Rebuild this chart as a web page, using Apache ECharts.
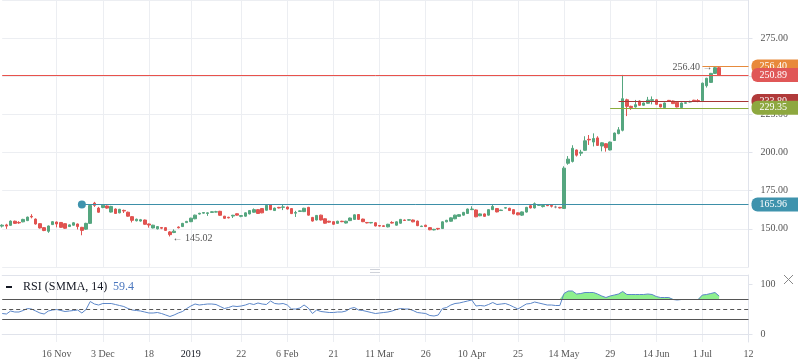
<!DOCTYPE html>
<html><head><meta charset="utf-8">
<script src="https://cdn.jsdelivr.net/npm/echarts@6/dist/echarts.min.js"></script>
<style>html,body{margin:0;padding:0;background:#fff}#c{width:798px;height:363px}</style>
</head><body><div id="c"></div>
<script>
// bar slots on the time scale (trading sessions), including future empty slots
const slotCount = 179;
const tickIndex = [13,24,35,45,57,68,79,90,101,112,123,134,145,156,167,178];
const tickLabels = ['16 Nov','3 Dec','18','2019','22','6 Feb','21','11 Mar','26','10 Apr','25','14 May','29','14 Jun','1 Jul','12'];
const priceTicks = [150,175,200,225,250,275];
const rsiTicks = [0,100];

// [open, close, low, high]
const candles = [
[151.8,152.4,150.9,153],[152.6,151.8,150,153.3],[152.3,155.1,152,155.5],[155,153.6,153.2,155.4],[154.2,153.9,153.3,155],
[154.6,156.2,154.3,156.6],[155.4,157.7,155.1,158],[158.2,157.8,156.9,159.6],[156.4,153.2,152.8,156.8],[153.4,150.6,150.2,153.7],
[150.8,148.9,148.5,151.2],[148.4,151.9,147.4,152.2],[152.8,154.7,152.5,155],[154.5,153.2,151,154.8],[154.2,151,150.7,154.5],
[153.4,150.4,150,153.7],[151.5,152.6,151.2,152.9],[152.4,154,152.1,154.4],[153.2,151.5,149.6,153.5],[151,149,145.8,151.3],
[149.8,153.6,149.4,154],[153.6,165.3,153.2,165.7],[166.9,165.4,164.4,167.7],[163.6,160.9,160.6,164.4],[164,165.5,163.5,166],
[165,163.6,163.2,165.4],[161,164.7,160.7,165.1],[163,160.1,159.8,163.4],[160.5,162.8,160.2,163.1],[162.1,161.7,160.4,162.6],
[160.9,158.3,158,161.3],[158,155.6,154.2,158.3],[155.3,156.3,154.9,156.7],[155.1,156,154.8,156.5],[155.8,153,152.7,156.1],
[153.2,152.5,150.8,153.5],[150.6,152.4,150.3,152.7],[150,151.5,149.6,151.8],[150.9,150.4,149.8,151.2],[150.8,149,148.7,151.1],
[148,146.2,145.02,148.5],[147.6,148.5,147.2,149.7],[151.2,150.7,150.3,151.6],[151.5,153.6,151.2,153.9],[154.1,154.9,153.8,155.2],
[154.7,157,154.4,157.3],[156.6,159,156.3,159.3],[159.7,160.2,159.4,160.5],[160.3,160.7,160,161],[160.1,160.5,158.5,160.8],
[160.8,161.2,160.5,161.5],[161,161.2,160.8,161.8],[161.5,158.9,158.6,161.8],[158.3,156.9,156.6,158.5],[157.6,157.2,156.9,157.9],
[158.4,158.9,157.1,159.2],[159.9,159,158.7,160.2],[158.2,158.7,157.6,159],[158.3,160.5,158,160.8],[159.8,162,159.5,162.3],
[160.9,162.6,160.6,163.4],[162.6,160.1,159.8,162.9],[163.3,160.5,160.2,163.6],[162.2,165.4,161.9,165.8],[165.8,162.6,162.3,166.2],
[162,163.6,161.7,163.9],[164.1,163.7,163.4,164.4],[164.1,164.4,162.3,165.8],[164.3,163,162.7,164.6],[163.3,160,159.7,163.6],
[160.3,160.7,157.8,161.8],[161.4,161.8,161.1,162.1],[161.3,163.5,161,163.8],[164.1,159,158.7,164.4],[157.5,155.1,154.8,157.8],
[155.8,158.8,155.5,159.1],[159,155.8,155.5,159.3],[156.6,153.7,153.4,156.9],[155,154.4,154,155.3],[154.7,153,152.7,155],
[153.6,155,153.3,155.3],[155,154.7,154.4,155.3],[153.8,155,153.5,155.3],[155.4,157.1,155.1,157.4],[156.2,159.2,155.9,159.5],
[159.4,156.2,155.9,159.7],[156.4,154.7,154.4,156.7],[154.2,153.9,153.6,154.5],[153.9,154.2,153.6,154.5],[154,151.9,151.6,154.3],
[152.2,151.8,151.5,152.5],[152,151.6,151.3,152.3],[151.3,153,151,153.3],[154.2,153.8,153.5,155],[152.4,154.6,152.1,154.9],
[153.7,156.2,153.4,156.5],[155.8,155.5,155.2,156.1],[155.7,156,155.4,156.3],[155.8,154.6,154.3,156.1],[155.1,152.1,151.8,155.4],
[151.5,151.8,151.2,152.1],[152.4,151.5,151.2,152.7],[150.8,149.4,149.1,151.1],[149.3,149.7,149,150],[150.3,149.9,149.2,150.6],
[150.2,154.6,149.9,154.9],[154.6,155.6,154.3,155.9],[155,157.2,154.7,157.5],[156.6,159,156.3,159.3],[158.2,159.3,157.9,159.6],
[159,160.8,158.7,161.1],[160.1,163,159.8,163.3],[162.6,163,162.3,164.8],[162.4,157.9,157.6,162.7],[158.6,159.8,158.3,160.1],
[159.8,158.2,157.9,160.1],[159,162.6,158.7,162.9],[162.6,164.7,162.3,165.9],[163.3,161.1,160.8,163.6],[162,162.3,161.7,162.6],
[163.6,163.9,163.3,164.2],[163.5,162,161.7,163.8],[162.6,159.8,159.5,162.9],[160.5,159.2,158.9,160.8],[159,161.1,158.5,161.4],
[161,164.1,160.7,164.4],[165.2,163.7,163.4,166],[163.7,166.5,163.4,167.3],[165.4,165.8,165.1,166.1],[164.6,165.3,164,165.6],
[165.6,165.2,164.9,165.9],[165.4,164.8,164,165.7],[164.3,164.3,163.5,165.2],[164.1,163.7,163.4,164.4],[163.4,189.8,163.1,191],
[193,195.7,192,197.7],[194.2,202.8,193.5,204.8],[201.7,198.3,197.4,202],[199.6,200.3,197.8,201.8],[201.5,207.7,201.2,210.7],
[208.7,208.3,205,211.5],[206.9,209.2,204,212.6],[209.6,204.7,204.4,210.7],[204.3,206.4,200.8,206.7],[205.8,203.2,200.6,206.1],
[201.7,206.9,201.4,207.2],[207.9,212.8,207.6,213.1],[212.4,214.9,212,216.7],[214.6,235.3,213.9,250.9],[234.6,230.3,223.9,235.3],
[230.3,229.5,228,230.7],[229.9,231.4,229.5,234.5],[233.8,231,230.7,234.2],[231,232.5,230.7,232.8],[232.3,234.4,232,236.5],
[234.2,234.7,231.6,236.8],[234.6,231.6,231.3,234.9],[231.6,229.9,229.6,231.9],[229.5,232.5,229.2,232.8],[234.2,233.8,233.5,234.5],
[233.8,232.1,231.8,234.1],[232.9,229.9,229.6,233.2],[229.5,232.5,229.2,232.8],[232.3,232.7,232,233.6],[233.1,233.5,232.8,234],
[234.3,233.8,233.5,234.6],[234.1,233.7,233,235],[234,245.5,233.7,245.8],[243.8,248.7,242.6,249],[246,251.9,245.7,252.2],
[251.9,255.6,251.6,256.4],[255.6,250.89,250.2,256.1]
];

const rsi = [
41,40,46,44,44,47,51,50,46,42, 40,46,48,49,47,45,46,47,48,42,
49,65,60,58,61,61,61,59,57,55, 51,48,47,46,44,42,42,43,41,38,
35,38,42,45,51,56,60,58,59,60, 60,59,55,51,53,56,55,56,58,61,
59,62,60,59,66,61,60,61,58,50, 50,52,58,52,41,48,45,44,43,43,
44,44,46,51,53,48,47,45,43,41, 42,43,44,46,49,51,50,50,47,43,
42,41,37,36,38,51,53,58,61,62, 64,66,68,56,57,56,59,63,59,60,
61,58,54,50,55,60,61,64,62,60, 58,58,57,57,81,86,86,80,81,83,
83,83,80,76,73,76,78,80,85,79, 79,79,79,79,80,79,75,73,73,73,
69,68,69,69,69,69,69,78,79,81, 83,76
];

// price levels drawn on the chart: [startSlot, price]
const levelTeal = [19, 165.96];
const levelLast = [0, 250.89];
const levelOrange = [167, 256.40];
const levelDarkRed = [147, 233.80];
const levelGreen = [145, 229.35];
const lowNote = [40, 145.02];
const highNote = [170, 256.40];
const rsiValueText = '59.4';
const rsiLevels = [70, 50, 30];

const categories = Array.from({length: slotCount}, (_, i) => String(i));
const tickSet = new Set(tickIndex);
const labelMap = {};
tickIndex.forEach((t, k) => { labelMap[String(t)] = tickLabels[k]; });
const isTick = (i) => tickSet.has(i);

// overbought shading: the part of the RSI line above the 70 level, stacked on a 70 base
const obBase = rsi.map(() => rsiLevels[0]);
const obExcess = rsi.map((v) => Math.max(0, v - rsiLevels[0]));

const FONT = 'Liberation Serif';
const GRID_LINE = '#eceef2';
const AXIS_LINE = '#e0e3eb';
const UP = '#55a67f', DOWN = '#e15350';
const last = String(slotCount - 1);

function lvlLabel(bg, val) {
  return {show: true, position: 'end', distance: 3, formatter: val.toFixed(2),
    color: '#fff', backgroundColor: bg, fontFamily: FONT, fontSize: 10,
    padding: [2, 12, 2, 8], borderRadius: [6, 0, 0, 6], lineHeight: 10};
}
function seg(level, color, bg) {
  return [{coord: [String(level[0]), level[1]], symbol: 'none',
      lineStyle: {color: color, width: 1, type: 'solid'}, label: lvlLabel(bg, level[1])},
    {coord: [last, level[1]], symbol: 'none'}];
}

const chart = echarts.init(document.getElementById('c'), null, {renderer: 'canvas'});
const xBase = (gridIndex) => ({
  type: 'category', data: categories, boundaryGap: false, gridIndex: gridIndex,
  axisLine: {show: false}, axisTick: {show: false},
  axisLabel: {show: false, interval: (i) => isTick(i)},
  splitLine: {show: true, interval: (i) => isTick(i), lineStyle: {color: GRID_LINE, width: 1}}
});

chart.setOption({
  animation: false,
  textStyle: {fontFamily: FONT},
  grid: [
    {left: 2.2, right: 49.5, top: -6, height: 273},
    {left: 2.2, right: 49.5, top: 275, height: 67}
  ],
  xAxis: [
    xBase(0),
    Object.assign(xBase(1), {
      axisLine: {show: true, lineStyle: {color: AXIS_LINE}},
      axisLabel: {show: true, interval: (i) => isTick(i), margin: 7, color: '#555', fontSize: 10, fontFamily: FONT,
        formatter: (v) => labelMap[v] === '2019' ? '{y|2019}' : (labelMap[v] || ''),
        rich: {y: {color: '#131722', fontSize: 10, fontFamily: FONT}}}
    }),
    {type: 'category', data: categories, boundaryGap: false, gridIndex: 1, position: 'top',
      axisLine: {show: true, lineStyle: {color: AXIS_LINE}}, axisTick: {show: false},
      axisLabel: {show: false}, splitLine: {show: false}}
  ],
  yAxis: [
    {type: 'value', gridIndex: 0, position: 'right', min: 125, max: 300, interval: 25,
      axisLine: {show: true, lineStyle: {color: AXIS_LINE}},
      axisTick: {show: true, length: 4, lineStyle: {color: AXIS_LINE}},
      axisLabel: {color: '#555', fontSize: 10, fontFamily: FONT, margin: 12,
        showMinLabel: false, showMaxLabel: false, formatter: (v) => v.toFixed(2)},
      splitLine: {show: true, lineStyle: {color: GRID_LINE}}},
    {type: 'value', gridIndex: 1, position: 'right', min: -16, max: 118,
      axisLine: {show: true, lineStyle: {color: AXIS_LINE}},
      axisTick: {show: true, length: 4, lineStyle: {color: AXIS_LINE}, customValues: rsiTicks},
      axisLabel: {color: '#555', fontSize: 10, fontFamily: FONT, margin: 12, customValues: rsiTicks},
      splitLine: {show: false}}
  ],
  series: [
    {
      type: 'candlestick', xAxisIndex: 0, yAxisIndex: 0, data: candles, barWidth: 3,
      itemStyle: {color: UP, color0: DOWN, borderColor: UP, borderColor0: DOWN, borderColorDoji: '#888', borderWidth: 1},
      markLine: {
        silent: true, symbol: 'none', animation: false,
        data: [
          seg(levelTeal, '#3d8fa8', '#3f93ad'),
          seg(levelOrange, '#e68a3c', '#e8893a'),
          seg(levelLast, '#e8524c', '#e05757'),
          seg(levelDarkRed, '#a83636', '#b03a3a'),
          seg(levelGreen, '#8aac3c', '#8ea83f')
        ]
      },
      markPoint: {
        silent: true, animation: false, symbol: 'circle',
        data: [
          {coord: [String(levelTeal[0]), levelTeal[1]], symbolSize: 8, itemStyle: {color: '#3f93ad'}, label: {show: false}},
          {coord: [String(lowNote[0]), lowNote[1]], symbolSize: 1, itemStyle: {color: 'rgba(0,0,0,0)'},
            label: {show: true, position: 'right', distance: 2, offset: [0, 2], formatter: '← ' + lowNote[1].toFixed(2),
              color: '#555', fontSize: 10, fontFamily: FONT}},
          {coord: [String(highNote[0]), highNote[1]], symbolSize: 1, itemStyle: {color: 'rgba(0,0,0,0)'},
            label: {show: true, position: 'left', distance: 2, offset: [0, 1], formatter: highNote[1].toFixed(2) + ' →',
              color: '#555', fontSize: 10, fontFamily: FONT}}
        ]
      }
    },
    {
      type: 'line', xAxisIndex: 1, yAxisIndex: 1, data: rsi, symbol: 'none', z: 4,
      lineStyle: {color: '#5b86c8', width: 1},
      markLine: {
        silent: true, symbol: 'none', animation: false, label: {show: false},
        data: [
          {yAxis: rsiLevels[0], lineStyle: {color: '#555', width: 1, type: 'solid'}},
          {yAxis: rsiLevels[1], lineStyle: {color: '#555', width: 1, type: [4, 3]}},
          {yAxis: rsiLevels[2], lineStyle: {color: '#555', width: 1, type: 'solid'}}
        ]
      }
    },
    {
      type: 'line', xAxisIndex: 1, yAxisIndex: 1, data: obBase, stack: 'ob', symbol: 'none', z: 2,
      lineStyle: {width: 0, opacity: 0}, silent: true
    },
    {
      type: 'line', xAxisIndex: 1, yAxisIndex: 1, data: obExcess, stack: 'ob', symbol: 'none', z: 2,
      lineStyle: {width: 0, opacity: 0}, silent: true,
      areaStyle: {color: '#8ef08e', opacity: 1}
    }
  ],
  graphic: [
    {type: 'rect', shape: {x: 6, y: 286, width: 6, height: 2}, style: {fill: '#131722'}},
    {type: 'text', x: 23, y: 287, style: {text: 'RSI (SMMA, 14)', font: '12px "Liberation Serif"', fill: '#131722', verticalAlign: 'middle'}},
    {type: 'text', x: 113, y: 287, style: {text: rsiValueText, font: '12px "Liberation Serif"', fill: '#4b77be', verticalAlign: 'middle'}},
    {type: 'rect', shape: {x: 370, y: 269, width: 10, height: 1}, style: {fill: '#d0d3da'}},
    {type: 'rect', shape: {x: 370, y: 272, width: 10, height: 1}, style: {fill: '#d0d3da'}},
    {type: 'line', shape: {x1: 784, y1: 275, x2: 793, y2: 284}, style: {stroke: '#888', lineWidth: 1}},
    {type: 'line', shape: {x1: 793, y1: 275, x2: 784, y2: 284}, style: {stroke: '#888', lineWidth: 1}}
  ]
});
</script>
</body></html>
